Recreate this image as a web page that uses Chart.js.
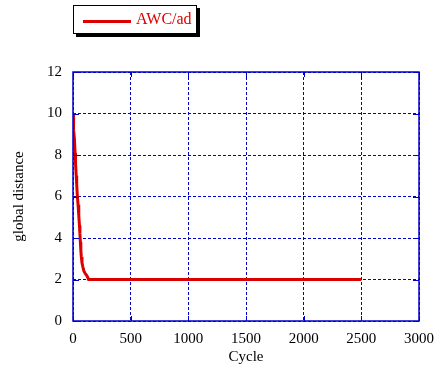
<!DOCTYPE html>
<html>
<head>
<meta charset="utf-8">
<script src="https://cdn.jsdelivr.net/npm/chart.js@4/dist/chart.umd.min.js"></script>
<style>
  html, body { margin: 0; padding: 0; background: #fff; }
  #wrap { position: relative; width: 443px; height: 367px; }
  #legend {
    position: absolute; left: 73px; top: 5px; width: 122px; height: 27px;
    border: 1px solid #000; background: #fff; box-shadow: 3px 3px 0 #000;
    font-family: "Liberation Serif", "Times New Roman", serif; font-size: 16px; color: #dd0000;
  }
  #legend .ln { position: absolute; left: 9px; top: 14px; width: 48px; height: 3px; background: #dd0000; }
  #legend .tx { position: absolute; left: 62px; top: 4px; line-height: 18px; }
</style>
</head>
<body>
<div id="wrap">
  <canvas id="c" width="443" height="367"></canvas>
  <div id="legend"><div class="ln"></div><div class="tx">AWC/ad</div></div>
</div>
<script>
const seriesName = "AWC/ad";
const cycles   = [0, 4, 6, 12, 18, 22, 28, 32, 38, 44, 50, 56, 60, 64, 68, 72, 78, 86, 95, 105, 118, 128, 135, 2500];
const distance = [10, 10, 9.2, 8.8, 8.1, 7.6, 7.0, 6.6, 6.0, 5.6, 5.1, 4.6, 4.2, 3.8, 3.4, 3.1, 2.8, 2.6, 2.4, 2.3, 2.2, 2.1, 2.0, 2.0];
const xTicks = [0, 500, 1000, 1500, 2000, 2500, 3000];
const yTicks = [0, 2, 4, 6, 8, 10, 12];

const BLUE = '#0000cc';
const RED = '#dd0000';
const serif = '"Liberation Serif", "Times New Roman", serif';

const frame = {
  id: 'frame',
  afterDraw(chart) {
    const {ctx, chartArea: a, scales: {x, y}} = chart;
    ctx.save();
    ctx.strokeStyle = BLUE;
    ctx.lineWidth = 1.5;
    ctx.strokeRect(a.left, a.top, a.right - a.left, a.bottom - a.top);
    ctx.lineWidth = 1;
    ctx.beginPath();
    xTicks.forEach(v => {
      const px = Math.round(x.getPixelForValue(v)) + 0.5;
      ctx.moveTo(px, a.bottom); ctx.lineTo(px, a.bottom - 5);
      ctx.moveTo(px, a.top); ctx.lineTo(px, a.top + 5);
    });
    yTicks.forEach(v => {
      const py = Math.round(y.getPixelForValue(v)) + 0.5;
      ctx.moveTo(a.left, py); ctx.lineTo(a.left + 6, py);
      ctx.moveTo(a.right, py); ctx.lineTo(a.right - 6, py);
    });
    ctx.stroke();
    ctx.restore();
  }
};

new Chart(document.getElementById('c'), {
  type: 'line',
  data: {
    datasets: [{
      label: seriesName,
      data: cycles.map((c, i) => ({x: c, y: distance[i]})),
      borderColor: RED,
      backgroundColor: RED,
      borderWidth: 3,
      pointRadius: 0,
      tension: 0,
      fill: false
    }]
  },
  options: {
    responsive: false,
    animation: false,
    devicePixelRatio: 1,
    layout: { padding: { left: 0, right: 16, top: 72, bottom: 0 } },
    plugins: { legend: { display: false }, tooltip: { enabled: false } },
    scales: {
      x: {
        type: 'linear', min: 0, max: 3000,
        afterBuildTicks: s => { s.ticks = xTicks.map(v => ({value: v})); },
        afterFit: s => { s.height = 46; },
        grid: { color: BLUE, lineWidth: 1, drawTicks: false },
        border: { display: false, dash: [3, 2] },
        ticks: { color: '#000', font: { family: serif, size: 15 }, padding: 9, maxRotation: 0, callback: v => String(v) },
        title: { display: true, text: 'Cycle', color: '#000', font: { family: serif, size: 15 }, padding: { bottom: 1, top: 0 } }
      },
      y: {
        type: 'linear', min: 0, max: 12,
        afterBuildTicks: s => { s.ticks = yTicks.map(v => ({value: v})); },
        afterFit: s => { s.width = 73; },
        grid: { color: BLUE, lineWidth: 1, drawTicks: false },
        border: { display: false, dash: [3, 2] },
        ticks: { color: '#000', font: { family: serif, size: 15 }, padding: 11, callback: v => String(v) },
        title: { display: true, text: 'global distance', color: '#000', font: { family: serif, size: 15 }, padding: { top: 10, bottom: 0 } }
      }
    }
  },
  plugins: [frame]
});
</script>
</body>
</html>
